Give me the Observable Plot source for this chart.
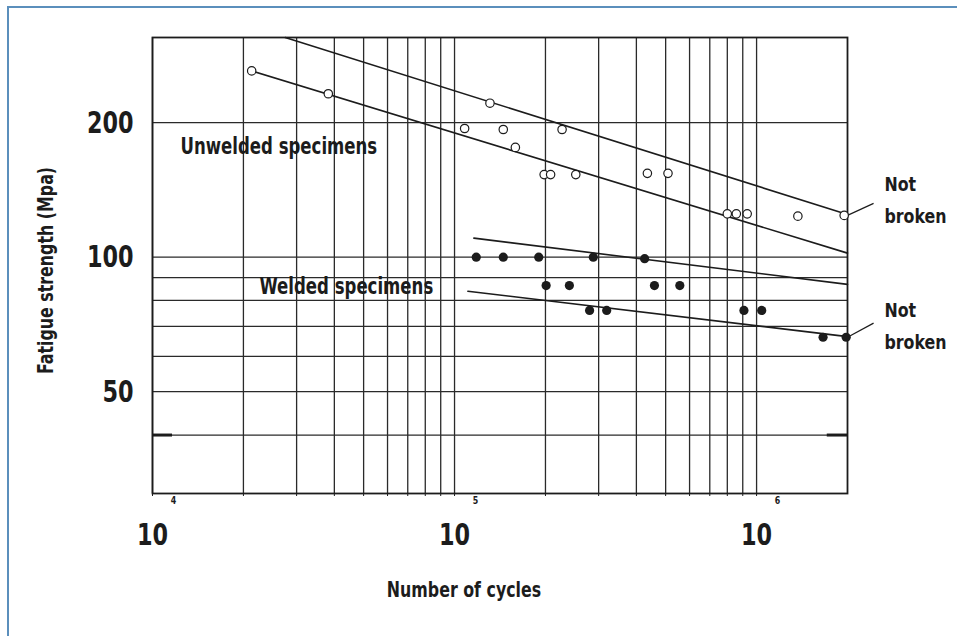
<!DOCTYPE html>
<html>
<head>
<meta charset="utf-8">
<script src="https://cdn.jsdelivr.net/npm/d3@7"></script>
<script src="https://cdn.jsdelivr.net/npm/@observablehq/plot@0.6"></script>
<style>
  html, body { margin: 0; padding: 0; background: #fff; overflow: hidden; }
  #wrap { position: relative; width: 957px; height: 636px; }
  #edge { position: absolute; left: 7px; top: 6px; width: 960px; height: 640px;
          border-left: 2px solid #5b8fbc; border-top: 2px solid #5b8fbc; pointer-events: none; }
</style>
</head>
<body>
<div id="wrap"><div id="edge"></div></div>
<script>
// ---- data (cycles, MPa) ----
const unweldedCycles = [2.13e4, 3.82e4, 1.08e5, 1.31e5, 1.45e5, 1.59e5, 1.98e5, 2.08e5, 2.27e5, 2.52e5, 4.35e5, 5.09e5, 8.0e5, 8.57e5, 9.31e5, 1.37e6, 1.95e6];
const unweldedStress = [261, 232, 194, 221, 193, 176, 153, 153, 193, 153, 154, 154, 125, 125, 125, 123.5, 124];

const weldedCycles = [1.18e5, 1.45e5, 1.90e5, 2.88e5, 4.26e5, 2.01e5, 2.40e5, 4.59e5, 5.57e5, 2.80e5, 3.19e5, 9.08e5, 1.04e6, 1.66e6, 1.98e6];
const weldedStress = [100, 100, 100, 100, 99.2, 86.4, 86.4, 86.4, 86.4, 76, 76, 76, 76, 66.2, 66.2];

// fitted S-N lines (two end points each)
const lineNames  = ["unwelded-upper", "unwelded-upper", "unwelded-lower", "unwelded-lower", "welded-upper", "welded-upper", "welded-lower", "welded-lower"];
const lineCycles = [2.75e4, 2e6, 2.13e4, 2e6, 1.159e5, 2e6, 1.107e5, 2e6];
const lineStress = [310, 124.6, 261, 102.1, 110.3, 86.9, 83.9, 66.4];

// ticks and grid
const xGridTicks = [1e4, 2e4, 3e4, 4e4, 5e4, 6e4, 7e4, 8e4, 9e4, 1e5, 2e5, 3e5, 4e5, 5e5, 6e5, 7e5, 8e5, 9e5, 1e6];
const xDecadeTicks = [1e4, 1e5, 1e6];
const xExponents = ["4", "5", "6"];
const yGridTicks = [40, 50, 60, 70, 80, 90, 100, 200];
const yLabelTicks = [200, 100, 50];

// annotations
const seriesLabels = ["Unwelded specimens", "Welded specimens"];
const seriesLabelX = [1.238e4, 2.26e4];
const seriesLabelY = [176.9, 85.7];
const noteText = ["Not\nbroken", "Not\nbroken"];
const noteX = [2.65e6, 2.65e6];
const noteY = [136.7, 71.4];
const leaderFromX = [2e6, 2e6];
const leaderFromY = [124, 66.2];
const leaderToX = [2.44e6, 2.44e6];
const leaderToY = [131.9, 71.2];
const markY = [40];

// ---- tables built from arrays ----
const unwelded = unweldedCycles.map((c, i) => ({cycles: c, stress: unweldedStress[i]}));
const welded = weldedCycles.map((c, i) => ({cycles: c, stress: weldedStress[i]}));
const lines = lineCycles.map((c, i) => ({name: lineNames[i], cycles: c, stress: lineStress[i]}));
const labels = seriesLabels.map((t, i) => ({text: t, x: seriesLabelX[i], y: seriesLabelY[i]}));
const notes = noteText.map((t, i) => ({text: t, x: noteX[i], y: noteY[i]}));
const leaders = leaderFromX.map((x, i) => ({x1: x, y1: leaderFromY[i], x2: leaderToX[i], y2: leaderToY[i]}));

const ink = "#1c1c1c";
const font = "'Liberation Sans Narrow', 'DejaVu Sans Condensed', 'Arial Narrow', sans-serif";

const chart = Plot.plot({
  width: 957,
  height: 636,
  marginLeft: 152,
  marginRight: 110,
  marginTop: 37,
  marginBottom: 143,
  style: {fontFamily: font, fontWeight: "bold", color: ink, background: "transparent", overflow: "visible"},
  x: {type: "log", domain: [1e4, 2e6]},
  y: {type: "log", domain: [29.6, 310]},
  marks: [
    Plot.ruleX(xGridTicks, {stroke: "#2a2a2a", strokeWidth: 1.3}),
    Plot.ruleY(yGridTicks, {stroke: "#2a2a2a", strokeWidth: 1.3}),
    Plot.ruleY(markY, {x1: 1e4, x2: 1.165e4, stroke: ink, strokeWidth: 3}),
    Plot.ruleY(markY, {x1: 1.714e6, x2: 2e6, stroke: ink, strokeWidth: 3}),
    Plot.frame({stroke: ink, strokeWidth: 1.8}),
    Plot.line(lines, {x: "cycles", y: "stress", z: "name", stroke: ink, strokeWidth: 1.6}),
    Plot.link(leaders, {x1: "x1", y1: "y1", x2: "x2", y2: "y2", stroke: ink, strokeWidth: 1.2, clip: false}),
    Plot.dot(unwelded, {x: "cycles", y: "stress", r: 4.2, stroke: ink, strokeWidth: 1.2, fill: "white"}),
    Plot.dot(welded, {x: "cycles", y: "stress", r: 4.6, fill: ink, stroke: "none"}),
    Plot.text(labels, {x: "x", y: "y", text: "text", textAnchor: "start", fontSize: 23, fill: ink}),
    Plot.text(notes, {x: "x", y: "y", text: "text", textAnchor: "start", fontSize: 20, lineHeight: 1.6, fill: ink, className: "note"}),
    Plot.axisX(xGridTicks, {tickSize: 3, tickFormat: () => "", label: null, stroke: ink}),
    Plot.axisX(xDecadeTicks, {tickSize: 0, tickPadding: 29, fontSize: 31, tickFormat: () => "10", label: null, fill: ink}),
    Plot.axisX(xDecadeTicks, {tickSize: 0, tickPadding: 3, dx: 21, fontSize: 11, tickFormat: d => xExponents[xDecadeTicks.indexOf(d)], label: null, fill: ink}),
    Plot.axisY(yLabelTicks, {tickSize: 0, tickPadding: 19, fontSize: 31, tickFormat: d => String(d), label: null, fill: ink}),
    Plot.text(["Number of cycles"], {frameAnchor: "bottom", textAnchor: "middle", dx: -36, dy: 103, fontSize: 22, fill: ink}),
    Plot.text(["Fatigue strength (Mpa)"], {frameAnchor: "left", textAnchor: "middle", rotate: -90, dx: -107, dy: 5, fontSize: 22, fill: ink})
  ]
});

const wrap = document.getElementById("wrap");
wrap.insertBefore(chart, wrap.firstChild);
chart.style.position = "absolute";
chart.style.left = "0";
chart.style.top = "0";

// narrow the glyphs horizontally to mimic the condensed face of the original
d3.select(chart).selectAll("text").each(function () {
  const isNote = this.closest("g.note") !== null;
  const factor = isNote ? 0.88 : 0.8;
  const tspans = this.querySelectorAll("tspan");
  const targets = tspans.length ? Array.from(tspans) : [this];
  for (const t of targets) {
    const len = t.getComputedTextLength();
    if (len > 0) {
      t.setAttribute("textLength", (len * factor).toFixed(1));
      t.setAttribute("lengthAdjust", "spacingAndGlyphs");
    }
  }
});
</script>
</body>
</html>
